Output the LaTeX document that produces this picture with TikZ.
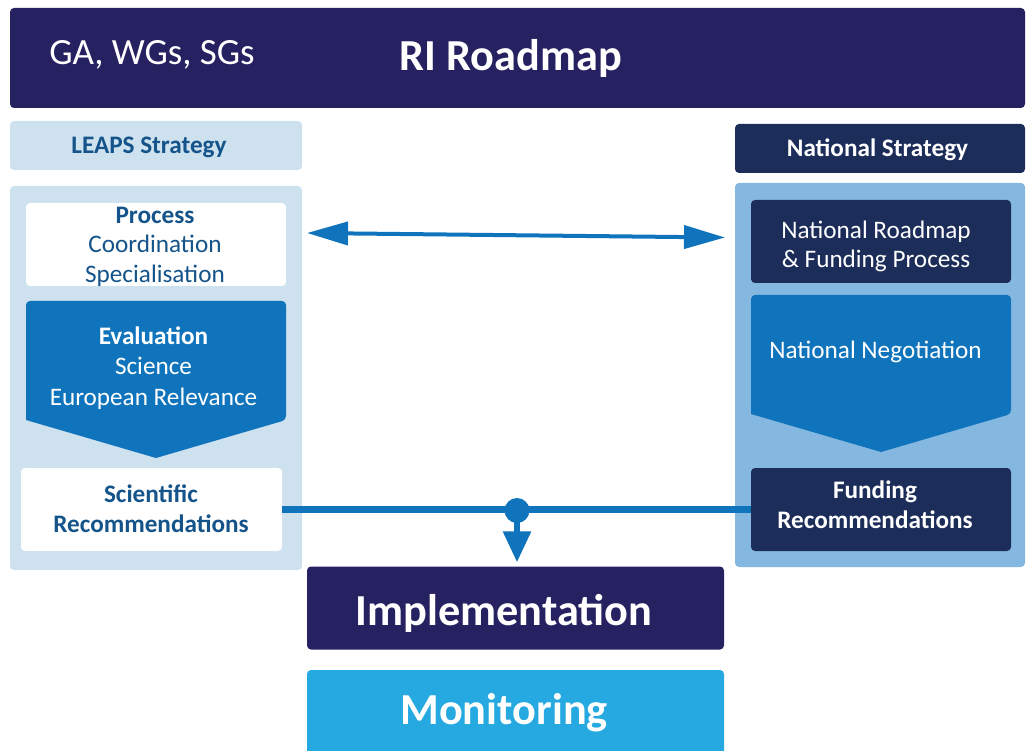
\documentclass[tikz,border=0pt]{standalone}
\usepackage{fontspec}
\setmainfont{Carlito}
\usetikzlibrary{arrows.meta}
\definecolor{navyA}{HTML}{262262}
\definecolor{navyB}{HTML}{1C2D5A}
\definecolor{midblue}{HTML}{1074BC}
\definecolor{pale}{HTML}{CDE1EE}
\definecolor{skyB}{HTML}{85B8E0}
\definecolor{cyanB}{HTML}{25A9E0}
\definecolor{textblue}{HTML}{14548A}
\begin{document}
\begin{tikzpicture}[x=1pt,y=-1pt,
  box/.style={rectangle, rounded corners=4pt, inner sep=0pt, align=center},
  bodytext/.style={align=center, font=\fontsize{25.2}{29.5}\selectfont},
  boldtext/.style={align=center, font=\bfseries\fontsize{25.2}{30.5}\selectfont},
  bigtext/.style={text=white, font=\bfseries\fontsize{44.3}{50}\selectfont}]
\useasboundingbox (0,0) rectangle (1026,751);
% top bar
\node[box, fill=navyA, minimum width=1015pt, minimum height=100pt] (top) at (517.5,58) {};
\node[text=white, font=\fontsize{37}{44}\selectfont] (ga) at (152,55) {GA, WGs, SGs};
\node[bigtext] (ri) at (511,58) {RI Roadmap};
% left column
\node[box, fill=pale, minimum width=292pt, minimum height=49pt] (leaps) at (156,145.5) {};
\node[text=textblue, boldtext] (leapstext) at (149,147.5) {LEAPS Strategy};
\node[box, fill=pale, minimum width=292pt, minimum height=384pt] (lp) at (156,378) {};
\node[box, fill=white, minimum width=260pt, minimum height=83pt] (proc) at (156,244.5) {};
\node[text=textblue, bodytext] (proctext) at (155,246.5) {\textbf{Process}\\Coordination\\Specialisation};
\fill[midblue, rounded corners=4pt] (26,420) -- (26,301) -- (286,301) -- (286,420) [sharp corners] -- (156,458) -- cycle;
\node[text=white, bodytext, font=\fontsize{25.2}{30.5}\selectfont] (eval) at (153.5,368) {\textbf{Evaluation}\\Science\\European Relevance};
\node[box, fill=white, minimum width=261pt, minimum height=83pt] (sci) at (151.5,509.5) {};
\node[text=textblue, boldtext] (scitext) at (151,508.5) {Scientific\\Recommendations};
% right column
\node[box, fill=navyB, minimum width=290pt, minimum height=49pt] (ns) at (880,148.5) {};
\node[text=white, boldtext] (nstext) at (877.5,150) {National Strategy};
\node[box, fill=skyB, minimum width=290pt, minimum height=384pt] (rp) at (880,375) {};
\node[box, fill=navyB, minimum width=260pt, minimum height=83pt] (nr) at (881,241.5) {};
\node[text=white, bodytext] (nrtext) at (876,246.5) {National Roadmap\\\& Funding Process};
\fill[midblue, rounded corners=4pt] (751,414) -- (751,295) -- (1011,295) -- (1011,414) [sharp corners] -- (881,452) -- cycle;
\node[text=white, bodytext] (neg) at (875.5,352) {National Negotiation};
\node[box, fill=navyB, minimum width=260pt, minimum height=83pt] (fund) at (881,509.5) {};
\node[text=white, boldtext] (fundtext) at (875,505) {Funding\\Recommendations};
% bottom
\node[box, fill=navyA, minimum width=417pt, minimum height=83pt] (impl) at (515.5,608) {};
\node[bigtext] (impltext) at (504,613) {Implementation};
\node[box, fill=cyanB, minimum width=417pt, minimum height=90pt] (mon) at (515.5,715) {};
\node[bigtext] (montext) at (504,713) {Monitoring};
% connectors
\coordinate (aL) at (307,233);
\coordinate (aR) at (725,237.5);
\draw[midblue, line width=4pt, {Triangle[length=41pt,width=23pt]}-{Triangle[length=41pt,width=23pt]}] (aL) -- (aR);
\draw[midblue, line width=6.5pt] (sci.east) -- (fund.west);
\coordinate (dot) at (517,510.5);
\fill[midblue] (dot) circle (12.5);
\draw[midblue, line width=6pt, -{Triangle[length=31pt,width=27pt]}, shorten >=4pt] (dot) -- (impl.north -| dot);
\end{tikzpicture}
\end{document}
